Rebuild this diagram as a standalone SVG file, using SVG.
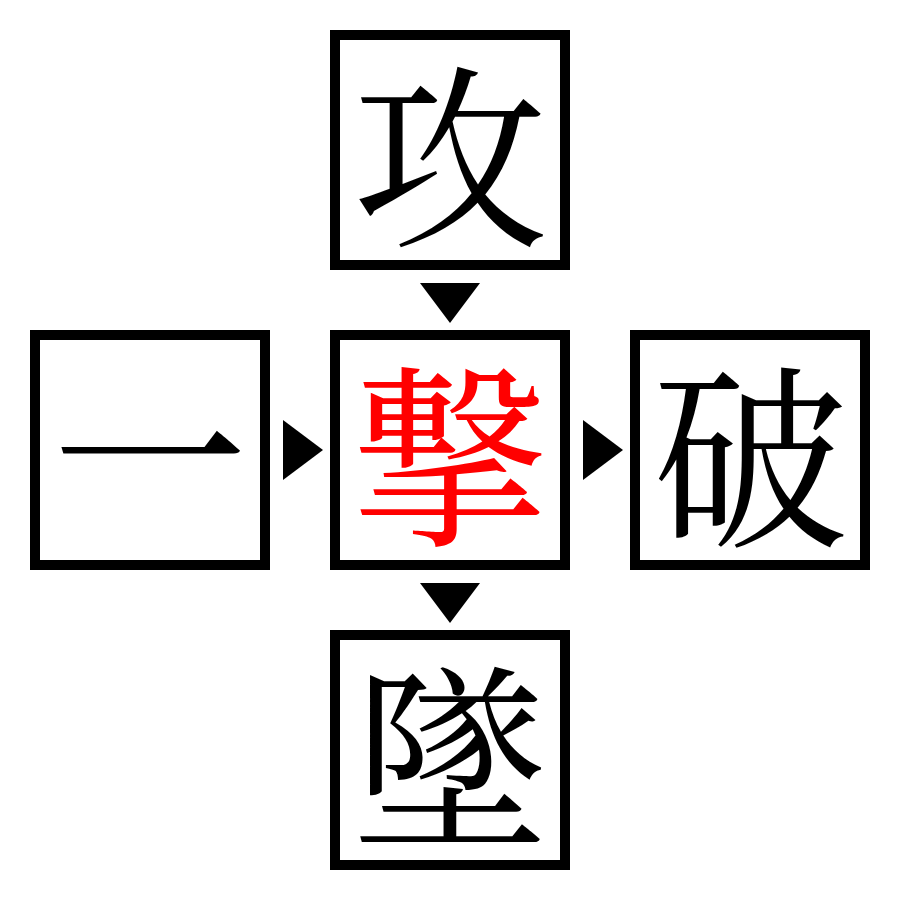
<svg xmlns="http://www.w3.org/2000/svg" width="900" height="900" viewBox="0 0 900 900">
<style>
.box{fill:#fff;stroke:#000;stroke-width:10}
.t{font-family:"Noto Serif CJK JP","Noto Sans CJK JP",serif;font-size:196px;text-anchor:middle;dominant-baseline:central;fill:#000}
.red{fill:#f00}
</style>
<rect width="900" height="900" fill="#fff"/>
<g id="n-top"><rect class="box" x="335" y="35" width="230" height="230"/><text class="t" x="450" y="146">攻</text></g>
<g id="n-left"><rect class="box" x="35" y="335" width="230" height="230"/><text class="t" x="150" y="446">一</text></g>
<g id="n-center"><rect class="box" x="335" y="335" width="230" height="230"/><text class="t red" x="450" y="446">撃</text></g>
<g id="n-right"><rect class="box" x="635" y="335" width="230" height="230"/><text class="t" x="750" y="446">破</text></g>
<g id="n-bottom"><rect class="box" x="335" y="635" width="230" height="230"/><text class="t" x="450" y="746">墜</text></g>
<g id="connectors" fill="#000">
<polygon points="420,283 480,283 450,323"/>
<polygon points="283,420 283,480 323,450"/>
<polygon points="583,420 583,480 623,450"/>
<polygon points="420,583 480,583 450,623"/>
</g>
</svg>
